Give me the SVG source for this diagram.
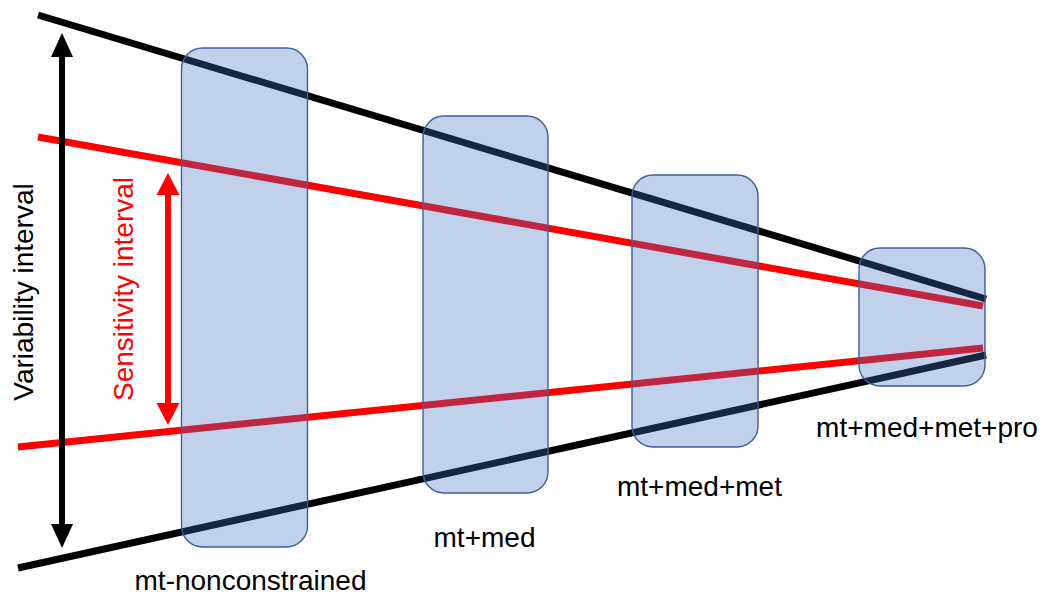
<svg xmlns="http://www.w3.org/2000/svg" width="1044" height="599" viewBox="0 0 1044 599">
  <style>
    .bound { fill: none; stroke-width: 7; stroke-linecap: butt; }
    .outer { stroke: #000000; }
    .inner { stroke: #FF0000; }
    .box { fill: #4472C4; fill-opacity: 0.33; stroke: #3F5E98; stroke-width: 1.4; }
    .label { font-family: "Liberation Sans", Arial, Helvetica, sans-serif; font-size: 28px; fill: #000000; }
    .axis-label { text-anchor: middle; }
    .red { fill: #FF0000; }
  </style>
  <defs>
    <marker id="head-black" markerUnits="userSpaceOnUse" markerWidth="26" markerHeight="24" viewBox="0 -12 26 24" refX="0" refY="0" orient="auto-start-reverse">
      <path d="M0,-11 L24,0 L0,11 Z" fill="#000000"/>
    </marker>
    <marker id="head-red" markerUnits="userSpaceOnUse" markerWidth="24" markerHeight="26" viewBox="0 -13 24 26" refX="0" refY="0" orient="auto-start-reverse">
      <path d="M0,-11.5 L22,0 L0,11.5 Z" fill="#FF0000"/>
    </marker>
  </defs>

  <!-- converging bounds -->
  <g id="connectors">
    <line class="bound outer" x1="38" y1="15" x2="986" y2="299"/>
    <line class="bound inner" x1="38" y1="137" x2="983" y2="306"/>
    <line class="bound inner" x1="18" y1="447" x2="983" y2="348"/>
    <line class="bound outer" x1="18" y1="568" x2="986" y2="355"/>
  </g>

  <!-- model stages -->
  <g id="stage-nonconstrained">
    <rect class="box" x="181.5" y="48" width="126" height="499" rx="21" ry="21"/>
    <text class="label" x="250.5" y="590" text-anchor="middle">mt-nonconstrained</text>
  </g>
  <g id="stage-med">
    <rect class="box" x="423" y="116" width="125" height="377" rx="21" ry="21"/>
    <text class="label" x="484.5" y="547" text-anchor="middle">mt+med</text>
  </g>
  <g id="stage-met">
    <rect class="box" x="632" y="175" width="126" height="272" rx="21" ry="21"/>
    <text class="label" x="699.5" y="496" text-anchor="middle">mt+med+met</text>
  </g>
  <g id="stage-pro">
    <rect class="box" x="859" y="248" width="126" height="138" rx="21" ry="21"/>
    <text class="label" x="927" y="437" text-anchor="middle">mt+med+met+pro</text>
  </g>

  <!-- interval arrows -->
  <g id="variability-interval">
    <line x1="62" y1="57" x2="62" y2="524" stroke="#000000" stroke-width="6" marker-start="url(#head-black)" marker-end="url(#head-black)"/>
    <text class="label axis-label" transform="translate(33,292) rotate(-90)">Variability interval</text>
  </g>
  <g id="sensitivity-interval">
    <line x1="168" y1="195" x2="168" y2="403" stroke="#FF0000" stroke-width="6" marker-start="url(#head-red)" marker-end="url(#head-red)"/>
    <text class="label axis-label red" transform="translate(133,289) rotate(-90)">Sensitivity interval</text>
  </g>
</svg>
